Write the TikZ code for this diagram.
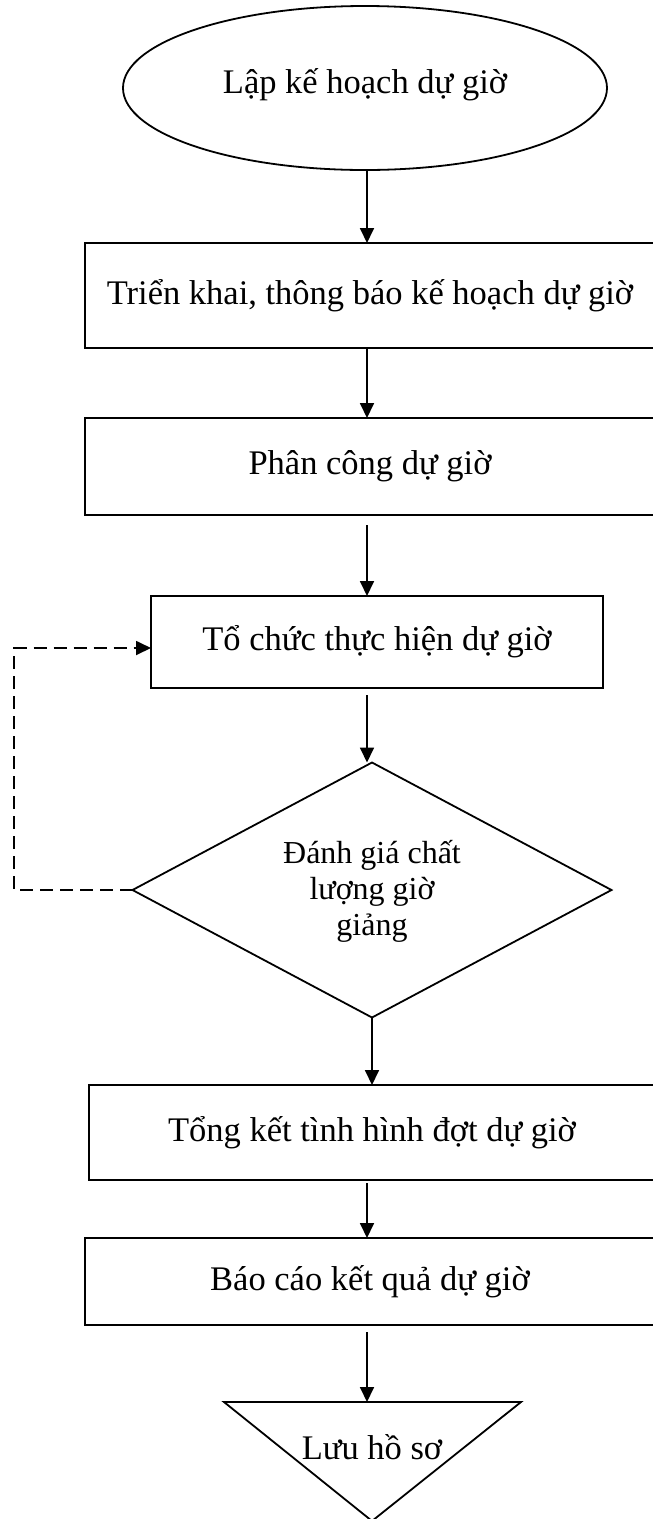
\documentclass[tikz,border=0pt]{standalone}
\usepackage{fontspec}
\setmainfont{Liberation Serif}
\usetikzlibrary{shapes.geometric,arrows.meta}
\begin{document}
\begin{tikzpicture}[x=1pt,y=-1pt,line width=1.8pt,
  every node/.style={inner sep=0pt,outer sep=0pt},
  bigfont/.style={font=\fontsize{34.5}{40}\selectfont},
  boxnode/.style={draw,rectangle,bigfont},
  arr/.style={-{Triangle[width=14pt,length=15pt]}},
  loopline/.style={dash pattern=on 13pt off 7pt}]
\useasboundingbox (0,0) rectangle (653,1519);
\coordinate (ax) at (367,0);
\node[ellipse,draw,minimum width=484pt,minimum height=164pt,bigfont,text depth=14pt] (start) at (365,88) {Lập kế hoạch dự giờ};
\node[boxnode,minimum width=570pt,minimum height=105pt] (b1) at (370,295.5) {Triển khai, thông báo kế hoạch dự giờ};
\node[boxnode,minimum width=570pt,minimum height=97pt] (b2) at (370,466.5) {Phân công dự giờ};
\node[boxnode,minimum width=452pt,minimum height=92pt] (b3) at (377,642) {Tổ chức thực hiện dự giờ};
\node[diamond,draw,minimum width=479pt,minimum height=255pt] (dia) at (372,890) {};
\node[align=center,font=\fontsize{32}{36}\selectfont] (diatext) at (372,891) {Đánh giá chất\\lượng giờ\\giảng};
\node[boxnode,minimum width=566pt,minimum height=95pt] (b4) at (372,1132.5) {Tổng kết tình hình đợt dự giờ};
\node[boxnode,minimum width=570pt,minimum height=87pt] (b5) at (370,1281.5) {Báo cáo kết quả dự giờ};
\coordinate (tl) at (224,1402);
\coordinate (tr) at (521,1402);
\coordinate (tip) at (372,1521);
\draw (tl) -- (tr) -- (tip) -- cycle;
\node[bigfont] (save) at (372,1447) {Lưu hồ sơ};
\draw[arr] (start.south -| ax) -- (b1.north -| ax);
\draw[arr] (b1.south -| ax) -- (b2.north -| ax);
\draw[arr,shorten <=10pt] (b2.south -| ax) -- (b3.north -| ax);
\draw[arr,shorten <=7pt] (b3.south -| ax) -- (dia.north -| ax);
\draw[arr] (dia.south) -- (dia.south |- b4.north);
\draw[arr,shorten <=3pt] (b4.south -| ax) -- (b5.north -| ax);
\draw[arr,shorten <=7pt] (b5.south -| ax) -- (tl -| ax);
\coordinate (loop) at (14,648);
\draw[arr,loopline] (dia.west) -| (loop) -- (loop -| b3.west);
\end{tikzpicture}
\end{document}
